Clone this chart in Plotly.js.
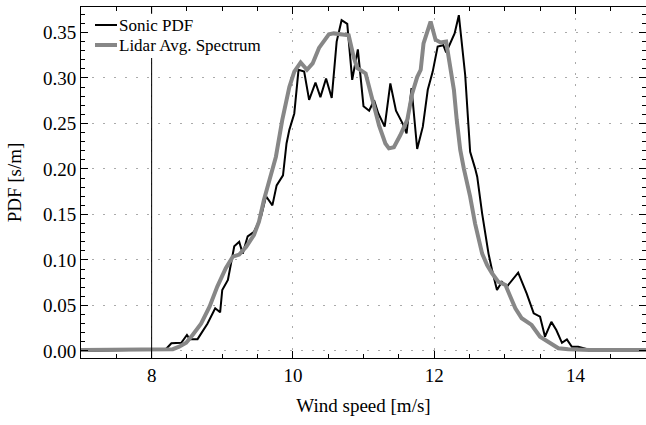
<!DOCTYPE html>
<html>
<head>
<meta charset="utf-8">
<script src="https://cdn.plot.ly/plotly-3.0.1.min.js"></script>
<style>html,body{margin:0;padding:0;background:#fff;}#chart{width:646px;height:425px;}</style>
</head>
<body>
<div id="chart"></div>
<script>
// Sonic anemometer PDF (wind speed [m/s], PDF [s/m])
const sonicX = [7.0, 8.2, 8.28, 8.42, 8.50, 8.54, 8.65, 8.79, 8.90, 8.97, 9.00, 9.08, 9.17, 9.24, 9.29, 9.36, 9.45, 9.55, 9.62, 9.71, 9.77, 9.86, 9.91, 9.95, 10.02, 10.08, 10.16, 10.23, 10.32, 10.39, 10.47, 10.55, 10.62, 10.69, 10.77, 10.84, 10.92, 11.00, 11.08, 11.15, 11.21, 11.30, 11.38, 11.46, 11.56, 11.61, 11.68, 11.76, 11.84, 11.91, 11.98, 12.05, 12.13, 12.17, 12.29, 12.35, 12.44, 12.51, 12.58, 12.61, 12.68, 12.77, 12.82, 12.89, 12.96, 13.03, 13.19, 13.31, 13.41, 13.50, 13.57, 13.66, 13.73, 13.81, 13.88, 13.95, 14.04, 14.17, 15.0];
const sonicY = [0.0, 0.002, 0.0085, 0.009, 0.0176, 0.013, 0.013, 0.030, 0.047, 0.0425, 0.067, 0.078, 0.115, 0.120, 0.107, 0.126, 0.131, 0.148, 0.170, 0.160, 0.182, 0.193, 0.228, 0.243, 0.261, 0.309, 0.307, 0.276, 0.295, 0.279, 0.2995, 0.278, 0.340, 0.3635, 0.3595, 0.298, 0.3315, 0.269, 0.264, 0.2755, 0.261, 0.2465, 0.294, 0.264, 0.249, 0.239, 0.289, 0.222, 0.2465, 0.287, 0.307, 0.3345, 0.336, 0.328, 0.349, 0.369, 0.303, 0.219, 0.2007, 0.1916, 0.151, 0.107, 0.089, 0.067, 0.076, 0.0707, 0.086, 0.0634, 0.0414, 0.0377, 0.0157, 0.032, 0.023, 0.009, 0.0128, 0.0047, 0.0047, 0.002, 0.0];

// Lidar averaged spectrum
const lidarX = [7.0, 8.0, 8.2, 8.30, 8.39, 8.49, 8.58, 8.70, 8.82, 8.93, 9.05, 9.15, 9.24, 9.34, 9.45, 9.52, 9.59, 9.76, 9.85, 9.95, 10.02, 10.11, 10.20, 10.28, 10.37, 10.51, 10.58, 10.79, 10.86, 10.91, 11.03, 11.10, 11.22, 11.31, 11.36, 11.43, 11.52, 11.62, 11.69, 11.76, 11.81, 11.85, 11.95, 12.02, 12.09, 12.17, 12.23, 12.28, 12.32, 12.37, 12.42, 12.51, 12.58, 12.68, 12.75, 12.82, 12.91, 13.01, 13.08, 13.15, 13.24, 13.38, 13.50, 13.62, 13.76, 13.90, 14.2, 15.0];
const lidarY = [0.001, 0.001, 0.0012, 0.002, 0.0047, 0.009, 0.0176, 0.030, 0.0487, 0.0707, 0.091, 0.1036, 0.106, 0.1146, 0.1275, 0.142, 0.166, 0.2135, 0.254, 0.29, 0.307, 0.317, 0.309, 0.316, 0.333, 0.348, 0.349, 0.347, 0.3234, 0.311, 0.305, 0.283, 0.248, 0.228, 0.2227, 0.224, 0.237, 0.254, 0.283, 0.301, 0.309, 0.338, 0.362, 0.342, 0.339, 0.340, 0.3125, 0.287, 0.254, 0.221, 0.2007, 0.1696, 0.140, 0.107, 0.0945, 0.0854, 0.076, 0.0725, 0.0597, 0.047, 0.036, 0.0286, 0.0157, 0.0102, 0.003, 0.0019, 0.001, 0.001];

const seriesNames = ["Sonic PDF", "Lidar Avg. Spectrum"];
const seriesColors = ['#000000', '#878787'];
const seriesWidths = [2, 4];
const xTitle = "Wind speed [m/s]";
const yTitle = "PDF [s/m]";
const markerX = 8;

const traces = [
  {x: sonicX, y: sonicY, name: seriesNames[0], type: 'scatter', mode: 'lines',
   line: {color: seriesColors[0], width: seriesWidths[0]}},
  {x: lidarX, y: lidarY, name: seriesNames[1], type: 'scatter', mode: 'lines',
   line: {color: seriesColors[1], width: seriesWidths[1]}}
];

const fontFam = 'Liberation Serif, DejaVu Serif, serif';

// compact legend (tight row spacing like the original), built in paper coordinates
const legendRows = [0.9487, 0.8917];
const legendShapes = [
  {type: 'rect', xref: 'paper', yref: 'paper', x0: 0.014, x1: 0.34, y0: 0.8547, y1: 0.981,
   layer: 'above', fillcolor: '#fff', line: {width: 0}}
];
const legendAnnots = [];
seriesNames.forEach((n, i) => {
  legendShapes.push({type: 'line', xref: 'paper', yref: 'paper', x0: 0.0248, x1: 0.0637,
    y0: legendRows[i], y1: legendRows[i], layer: 'above',
    line: {color: seriesColors[i], width: seriesWidths[i]}});
  legendAnnots.push({xref: 'paper', yref: 'paper', x: 0.0655, y: legendRows[i], xanchor: 'left',
    yanchor: 'middle', text: n, showarrow: false, borderpad: 0,
    font: {family: fontFam, size: 17, color: '#000'}});
});

const layout = {
  width: 646, height: 425,
  margin: {l: 81, r: 0, t: 7, b: 67},
  paper_bgcolor: '#fff', plot_bgcolor: '#fff',
  font: {family: fontFam, size: 19, color: '#000'},
  showlegend: false,
  xaxis: {
    range: [7, 15], tick0: 0, dtick: 2, ticks: 'inside', ticklen: 7, tickcolor: '#000',
    showline: true, linecolor: '#000', linewidth: 1, mirror: 'ticks',
    showgrid: true, gridcolor: '#aaa', griddash: '2px,9px', gridwidth: 1, zeroline: false,
    tickfont: {family: fontFam, size: 19, color: '#000'},
    minor: {tick0: 0, dtick: 0.5, ticks: 'inside', ticklen: 4, tickcolor: '#000', showgrid: false},
    title: {text: xTitle, standoff: 13, font: {family: fontFam, size: 19, color: '#000'}}
  },
  yaxis: {
    range: [-0.0077, 0.378], tick0: 0, dtick: 0.05, tickformat: '.2f', ticks: 'inside', ticklen: 7,
    tickcolor: '#000', showline: true, linecolor: '#000', linewidth: 1, mirror: 'ticks',
    showgrid: true, gridcolor: '#aaa', griddash: '2px,9px', gridwidth: 1, zeroline: false,
    tickfont: {family: fontFam, size: 19, color: '#000'},
    minor: {tick0: 0, dtick: 0.01, ticks: 'inside', ticklen: 4, tickcolor: '#000', showgrid: false},
    title: {text: yTitle, standoff: 16, font: {family: fontFam, size: 19, color: '#000'}}
  },
  shapes: [{type: 'line', xref: 'x', yref: 'paper', x0: markerX, x1: markerX, y0: 0, y1: 1,
            layer: 'above', line: {color: '#000', width: 1, dash: 'solid'}}].concat(legendShapes),
  annotations: legendAnnots
};

Plotly.newPlot('chart', traces, layout, {displayModeBar: false, staticPlot: true});
</script>
</body>
</html>
